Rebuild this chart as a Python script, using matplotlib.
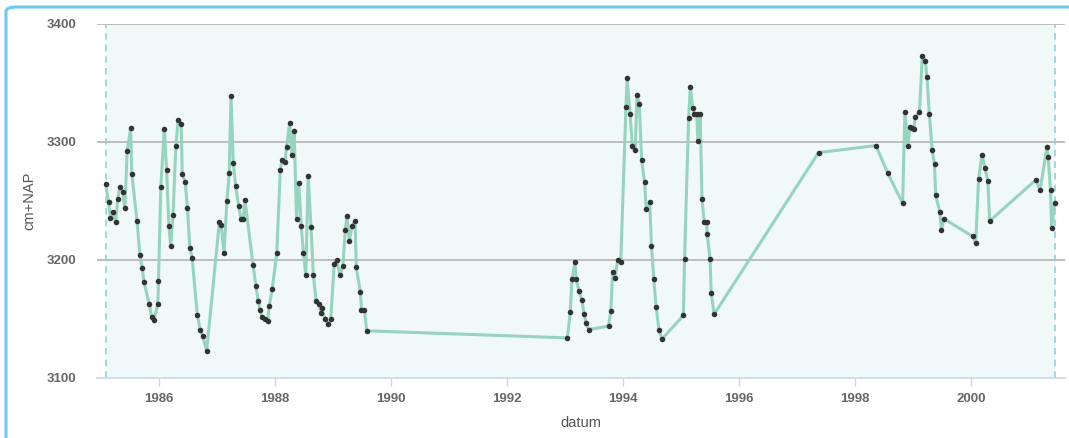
import matplotlib
matplotlib.use("Agg")
import matplotlib.pyplot as plt
from matplotlib.patches import FancyBboxPatch

# decimal years and water level (cm+NAP)
jaar = [
    1985.08, 1985.13, 1985.16, 1985.20, 1985.25, 1985.29, 1985.32, 1985.37, 1985.41, 1985.45,
    1985.51, 1985.53, 1985.62, 1985.67, 1985.71, 1985.74, 1985.83, 1985.87, 1985.91, 1985.98,
    1985.99, 1986.03, 1986.09, 1986.13, 1986.17, 1986.20, 1986.24, 1986.29, 1986.33, 1986.38,
    1986.40, 1986.45, 1986.49, 1986.53, 1986.57, 1986.66, 1986.71, 1986.75, 1986.82, 1987.04,
    1987.07, 1987.12, 1987.17, 1987.21, 1987.24, 1987.28, 1987.32, 1987.37, 1987.41, 1987.45,
    1987.48, 1987.62, 1987.67, 1987.71, 1987.74, 1987.77, 1987.83, 1987.87, 1987.90, 1987.95,
    1988.03, 1988.09, 1988.12, 1988.17, 1988.20, 1988.25, 1988.29, 1988.33, 1988.37, 1988.41,
    1988.45, 1988.49, 1988.53, 1988.57, 1988.62, 1988.66, 1988.71, 1988.75, 1988.80, 1988.81,
    1988.86, 1988.92, 1988.96, 1989.02, 1989.06, 1989.12, 1989.17, 1989.21, 1989.24, 1989.28,
    1989.33, 1989.38, 1989.40, 1989.47, 1989.49, 1989.54, 1989.58,
    1993.04, 1993.09, 1993.12, 1993.17, 1993.19, 1993.24, 1993.29, 1993.33, 1993.36, 1993.41,
    1993.75, 1993.79, 1993.82, 1993.86, 1993.91, 1993.96, 1994.05, 1994.07, 1994.12, 1994.16,
    1994.21, 1994.24, 1994.28, 1994.32, 1994.37, 1994.40, 1994.46, 1994.49, 1994.53, 1994.57,
    1994.62, 1994.67, 1995.04, 1995.06, 1995.13, 1995.16, 1995.20, 1995.23, 1995.27, 1995.29,
    1995.33, 1995.36, 1995.40, 1995.44, 1995.45, 1995.50, 1995.52, 1995.57,
    1997.37, 1998.36, 1998.56, 1998.82, 1998.86, 1998.91, 1998.95, 1998.98, 1999.01, 1999.04,
    1999.11, 1999.16, 1999.21, 1999.24, 1999.28, 1999.33, 1999.37, 1999.39, 1999.46, 1999.49,
    1999.53, 2000.03, 2000.08, 2000.13, 2000.19, 2000.24, 2000.29, 2000.32, 2001.12, 2001.19,
    2001.31, 2001.33, 2001.37, 2001.39, 2001.44,
]
stand = [
    3264, 3249, 3236, 3241, 3232, 3252, 3262, 3258, 3244, 3292,
    3312, 3273, 3233, 3204, 3193, 3181, 3163, 3152, 3149, 3163,
    3182, 3262, 3311, 3276, 3229, 3212, 3238, 3297, 3319, 3315,
    3273, 3266, 3244, 3210, 3202, 3153, 3141, 3136, 3123, 3232,
    3230, 3206, 3250, 3274, 3339, 3282, 3263, 3246, 3235, 3235,
    3251, 3196, 3178, 3165, 3158, 3152, 3150, 3148, 3161, 3175,
    3206, 3276, 3285, 3283, 3296, 3316, 3289, 3309, 3235, 3265,
    3229, 3206, 3187, 3271, 3228, 3187, 3165, 3163, 3155, 3159,
    3150, 3146, 3150, 3197, 3200, 3187, 3195, 3225, 3237, 3216,
    3229, 3233, 3194, 3173, 3158, 3158, 3140,
    3134, 3156, 3184, 3198, 3184, 3174, 3166, 3154, 3147, 3141,
    3144, 3157, 3190, 3185, 3200, 3198, 3330, 3354, 3324, 3297,
    3293, 3340, 3332, 3285, 3266, 3243, 3249, 3212, 3184, 3160,
    3141, 3133, 3153, 3201, 3320, 3347, 3329, 3324, 3324, 3301,
    3324, 3252, 3232, 3232, 3222, 3201, 3172, 3154,
    3291, 3297, 3274, 3248, 3325, 3297, 3313, 3312, 3311, 3321,
    3325, 3373, 3369, 3355, 3324, 3293, 3281, 3255, 3241, 3225,
    3235, 3220, 3214, 3269, 3289, 3278, 3267, 3233, 3268, 3259,
    3296, 3287, 3259, 3227, 3248,
]
jaren = [1986, 1988, 1990, 1992, 1994, 1996, 1998, 2000]
niveaus = [3100, 3200, 3300, 3400]

plt.rcParams['font.family'] = ['Liberation Sans', 'DejaVu Sans']

fig = plt.figure(figsize=(10.69, 4.38), dpi=100)
ax = fig.add_axes([97/1069, 1-378/438, (1065-97)/1069, (378-24)/438])

# lichte achtergrond tussen eerste en laatste meting
ax.axvspan(jaar[0], jaar[-1], color='#f0f9f8', zorder=0, lw=0)
ax.axvline(jaar[0], color='#8fd3d8', ls=(0, (4, 3)), lw=1.2, zorder=1)
ax.axvline(jaar[-1], color='#8fd3d8', ls=(0, (4, 3)), lw=1.2, zorder=1)

for n in niveaus[1:]:
    ax.axhline(n, color='#bdbdbd', lw=1.4, zorder=1)

ax.plot(jaar, stand, color='#97d3bf', lw=2.2, zorder=2)
ax.scatter(jaar, stand, s=16, color='#333333', zorder=3, lw=0)

ax.set_xlim(1984.93, 2001.62)
ax.set_ylim(3100, 3400)
ax.set_xticks(jaren)
ax.set_xticklabels([str(j) for j in jaren])
ax.set_yticks(niveaus)

for s in ['top', 'right', 'left']:
    ax.spines[s].set_visible(False)
ax.spines['bottom'].set_color('#ccd6eb')
ax.spines['bottom'].set_linewidth(1.2)
ax.tick_params(axis='x', colors='#ccd6eb', length=6, width=1, labelcolor='#666666',
               labelsize=9.5, pad=5)
ax.tick_params(axis='y', length=0, labelcolor='#666666', labelsize=9.5, pad=15)
for t in ax.get_xticklabels() + ax.get_yticklabels():
    t.set_fontweight('bold')

ax.set_xlabel('datum', color='#555555', fontsize=10.5, labelpad=8)
ax.set_ylabel('cm+NAP', color='#555555', fontsize=10.5, labelpad=7)

# blauwe rand van het paneel
rand = FancyBboxPatch((6/1069, -0.2), 1.2, 1-7/438+0.2, boxstyle='round,pad=0,rounding_size=0.01',
                      transform=fig.transFigure, fill=False, ec='#6cc9f2', lw=2.2, clip_on=False)
fig.patches.append(rand)

fig.savefig('out.png', dpi=100)
